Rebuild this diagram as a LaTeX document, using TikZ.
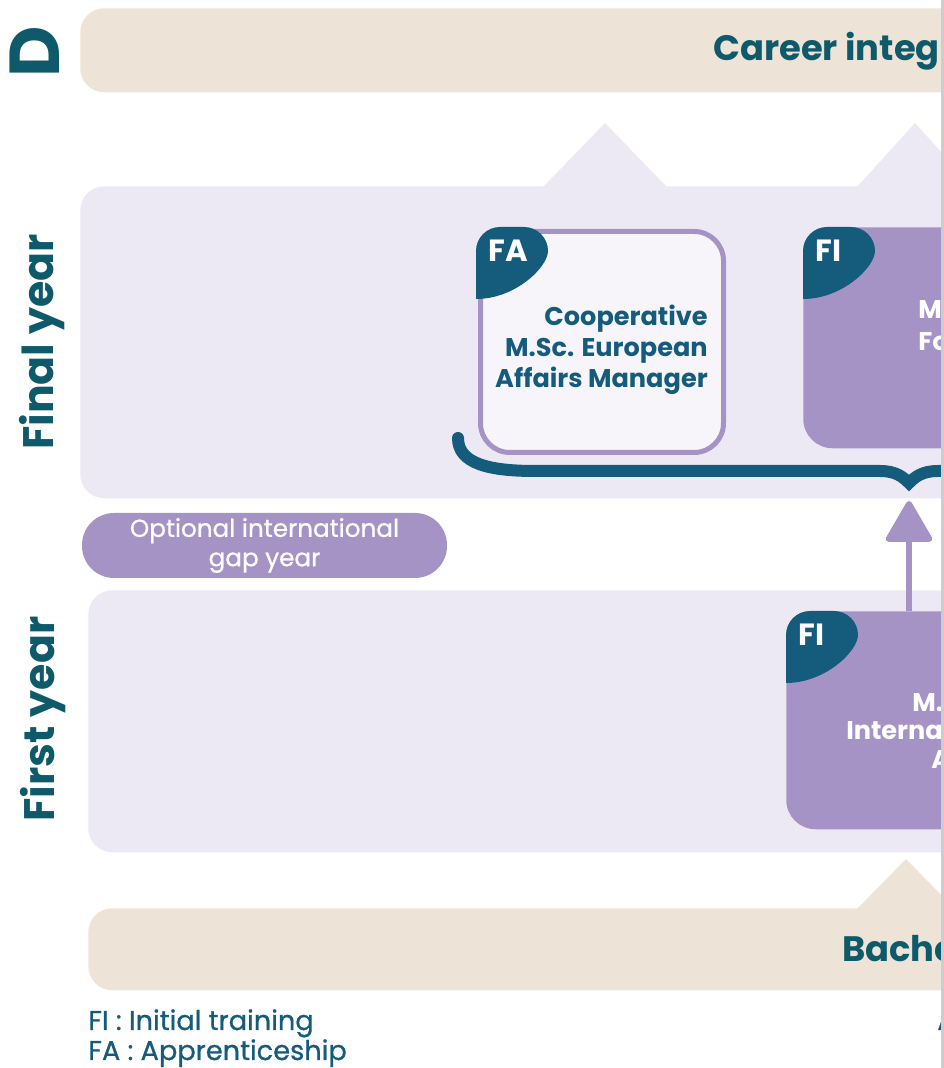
\documentclass[tikz,border=0pt]{standalone}
\usepackage{fontspec}
\setmainfont{Poppins}
\newfontfamily\medfont{Poppins}[FakeBold=0.8]
\usepackage{tikz}
\usetikzlibrary{arrows.meta,positioning,calc}

\definecolor{sand}{HTML}{EDE3D6}
\definecolor{lilac}{HTML}{EDE9F4}
\definecolor{mauve}{HTML}{A693C6}
\definecolor{heading}{HTML}{0E5A6A}
\definecolor{inkblue}{HTML}{155B7B}
\definecolor{edgegrey}{HTML}{CDCDCD}

% dark corner tab with its label
\newcommand{\tabcorner}[2]{%
  \fill[inkblue, rounded corners=18pt] ($(#1)+(0,-71)$) -- (#1) -- ($(#1)+(72,0)$) [sharp corners] arc (0:-90:72) -- cycle;
  \node[tablabel, anchor=base west] at ($(#1)+(12,-35)$) {#2};}

\begin{document}
\begin{tikzpicture}[x=0.75pt,y=0.75pt]
	\tikzstyle{lilacband}=[fill=lilac, rounded corners=18pt, inner sep=0pt, anchor=north west]
	\tikzstyle{sandband}=[fill=sand, rounded corners=18pt, inner sep=0pt, anchor=north west]
	\tikzstyle{headtext}=[text=heading, font=\fontsize{26.5}{26.5}\selectfont\bfseries, inner sep=0pt]
	\tikzstyle{yeartext}=[text=heading, font=\fontsize{32}{32}\selectfont\bfseries, inner sep=0pt, rotate=90, anchor=base]
	\tikzstyle{fibox}=[fill=mauve, rounded corners=22pt, inner sep=0pt, anchor=north west]
	\tikzstyle{fabox}=[draw=mauve, line width=3.75pt, fill=white!55!lilac, rounded corners=22pt, inner sep=0pt]
	\tikzstyle{tablabel}=[text=white, font=\fontsize{23}{23}\selectfont\bfseries, inner sep=0pt]
	\tikzstyle{boxtext}=[text=inkblue, font=\fontsize{19.2}{23.25}\selectfont\bfseries, inner sep=0pt, align=right]
	\tikzstyle{cuttext}=[text=white, font=\fontsize{19.2}{23.25}\selectfont\bfseries, inner sep=0pt, anchor=base west]
	\tikzstyle{pill}=[fill=mauve, rounded corners=24pt, text=white, font=\fontsize{18.5}{22}\medfont, align=center, minimum width=273.75pt, minimum height=48.75pt]
	\tikzstyle{legend}=[text=inkblue, font=\fontsize{20.4}{20.4}\medfont, inner sep=0pt, anchor=base west]

	\useasboundingbox (0,0) rectangle (944,1068);
	\clip (0,0) rectangle (944,1068);

	% bands
	\node[sandband, minimum width=690pt, minimum height=63pt] (career) at (80,1060) {};
	\node[lilacband, minimum width=690pt, minimum height=234pt] (finalband) at (80,882) {};
	\node[lilacband, minimum width=684pt, minimum height=196.5pt] (firstband) at (88,478) {};
	\node[sandband, minimum width=684pt, minimum height=61.5pt] (bachelor) at (88,160) {};
	\fill[lilac] (543,881) -- (605,945) -- (667,881) -- cycle;
	\fill[lilac] (857,881) -- (915,945) -- (973,881) -- cycle;
	\fill[sand] (857,159) -- (906,209) -- (955,159) -- cycle;

	\node[headtext, rotate=90, font=\fontsize{53}{53}\selectfont\bfseries] (sect) at (35,1016) {D};
	\node[headtext, anchor=base west] (careertext) at (713,1007) {Career integ};
	\node[headtext, anchor=base west] (bachtext) at (842,106) {Bache};
	\node[yeartext] (finalyear) at (53,726) {Final year};
	\node[yeartext] (firstyear) at (54,349) {First year};

	% final year
	\node[fabox, minimum width=182.25pt, minimum height=165.75pt] (coop) at (602,726) {};
	\tabcorner{476,841}{FA}
	\node[boxtext, anchor=east] (cooptext) at (708,718) {Cooperative\\M.Sc. European\\Affairs Manager};
	\node[fibox, minimum width=225pt, minimum height=165.75pt] (msfinal) at (803,841) {};
	\tabcorner{803,841}{FI}
	\node[cuttext] (mfinal1) at (918,749) {M};
	\node[cuttext] (mfinal2) at (918,717) {Fo};

	\draw[inkblue, line width=9pt, line cap=round] (458,630) .. controls (458,604) and (490,597) .. (535,597) -- (880,597) .. controls (896,597) and (903,591) .. (909,585) .. controls (915,591) and (922,597) .. (938,597) -- (1000,597);
	\coordinate (brace) at (909,567);

	\node[pill] (gap) at (264.5,522.5) {Optional international\\gap year};

	% first year
	\node[fibox, minimum width=240pt, minimum height=163.5pt] (msfirst) at (786,457) {};
	\tabcorner{786,457}{FI}
	\node[cuttext] (mfirst1) at (912,356) {M.};
	\node[cuttext] (mfirst2) at (846,328) {Internat};
	\node[cuttext] (mfirst3) at (931,299) {A};

	\draw[mauve, line width=4.5pt, -{Triangle[length=33pt,width=37pt,round]}] (msfirst.north -| brace) -- (brace);

	% legend
	\node[legend] (filegend) at (88,38) {FI : Initial training};
	\node[legend] (falegend) at (88,8) {FA : Apprenticeship};
	\node[legend] (cutlegend) at (937,38) {A};

	\fill[edgegrey] (941,0) rectangle (944,1068);
\end{tikzpicture}
\end{document}
